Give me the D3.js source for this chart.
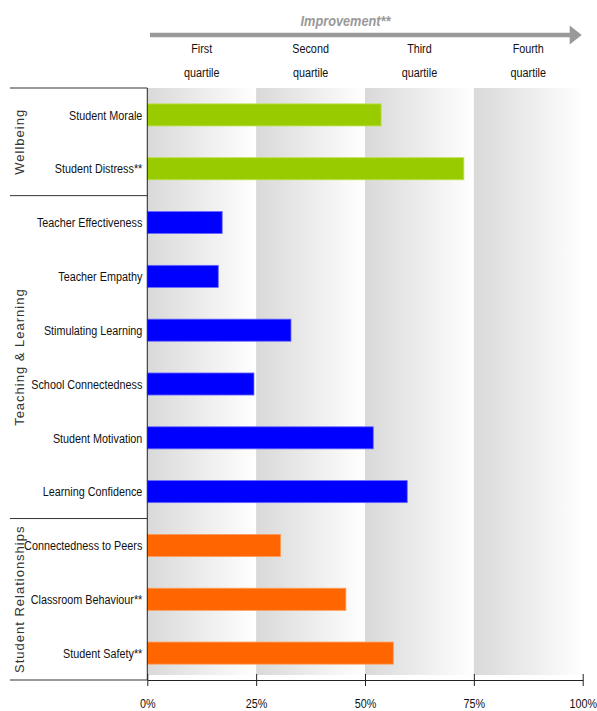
<!DOCTYPE html>
<html>
<head>
<meta charset="utf-8">
<script src="https://cdn.jsdelivr.net/npm/d3@7"></script>
<style>
  html, body { margin: 0; padding: 0; background: #fff; }
  svg { display: block; }
  .narrow { font-family: "Liberation Sans", Arial, sans-serif; }
</style>
</head>
<body>
<svg id="chart" width="597" height="711"></svg>
<script>
// Survey measures, grouped by domain, with percentile position (0-100)
const categories = [
  "Student Morale", "Student Distress**",
  "Teacher Effectiveness", "Teacher Empathy", "Stimulating Learning",
  "School Connectedness", "Student Motivation", "Learning Confidence",
  "Connectedness to Peers", "Classroom Behaviour**", "Student Safety**"
];
const values = [53.7, 72.7, 17.2, 16.3, 33.0, 24.5, 51.9, 59.7, 30.6, 45.6, 56.5];
const groupOf = [
  "Wellbeing", "Wellbeing",
  "Teaching & Learning", "Teaching & Learning", "Teaching & Learning",
  "Teaching & Learning", "Teaching & Learning", "Teaching & Learning",
  "Student Relationships", "Student Relationships", "Student Relationships"
];
const groups = ["Wellbeing", "Teaching & Learning", "Student Relationships"];
const groupColors = { "Wellbeing": "#99cc00", "Teaching & Learning": "#0000ff", "Student Relationships": "#ff6600" };
const groupStroke = { "Wellbeing": "#bde04d", "Teaching & Learning": "#6a6aff", "Student Relationships": "#ff9a55" };
const quartileLabels = [["First", "quartile"], ["Second", "quartile"], ["Third", "quartile"], ["Fourth", "quartile"]];
const tickValues = [0, 25, 50, 75, 100];

const svg = d3.select("#chart");
const plotLeft = 147.3, plotRight = 582.7, plotTop = 88, plotBottom = 680;
const squeeze = 0.8; // horizontal condensing for the narrow label face

const x = d3.scaleLinear().domain([0, 100]).range([plotLeft, plotRight]);
const y = d3.scaleBand().domain(categories).range([plotTop, plotBottom])
  .paddingInner(0.59).paddingOuter(0.295);

// Place a condensed text at (px, py)
function narrowText(parent, px, py, str, opts) {
  return parent.append("text")
    .attr("class", "narrow")
    .attr("transform", `translate(${px},${py}) scale(${opts.scale || squeeze},1)`)
    .attr("text-anchor", opts.anchor || "middle")
    .attr("font-size", opts.size || 13)
    .attr("font-style", opts.style || null)
    .attr("font-weight", opts.weight || null)
    .attr("dy", opts.dy || null)
    .attr("fill", opts.fill || "#111")
    .text(str);
}

// Quartile background bands: light grey fading to white
const defs = svg.append("defs");
const grad = defs.append("linearGradient").attr("id", "bandGrad")
  .attr("x1", "0%").attr("x2", "100%").attr("y1", "0%").attr("y2", "0%");
grad.append("stop").attr("offset", "0%").attr("stop-color", "#d9d9d9");
grad.append("stop").attr("offset", "100%").attr("stop-color", "#ffffff");

svg.append("g").selectAll("rect").data([0, 25, 50, 75]).join("rect")
  .attr("x", d => x(d))
  .attr("y", plotTop)
  .attr("width", d => x(d + 25) - x(d))
  .attr("height", plotBottom - 5 - plotTop)
  .attr("fill", "url(#bandGrad)");

// Improvement arrow and quartile headings
const arrowY = 35;
svg.append("line")
  .attr("x1", 150).attr("x2", x(100) - 10)
  .attr("y1", arrowY).attr("y2", arrowY)
  .attr("stroke", "#999").attr("stroke-width", 4.5);
svg.append("path")
  .attr("d", `M${x(100) - 13},${arrowY - 9.5} L${x(100) - 1},${arrowY} L${x(100) - 13},${arrowY + 9.5} Z`)
  .attr("fill", "#999");
narrowText(svg, 345.5, 26, "Improvement**",
  { size: 15, style: "italic", weight: "bold", fill: "#999", scale: 0.85 });

const qg = svg.append("g");
quartileLabels.forEach((lines, i) => {
  const cx = x(i * 25 + 12.5);
  lines.forEach((t, j) => narrowText(qg, cx, 53 + j * 24, t, { size: 13.5 }));
});

// Bars
svg.append("g").selectAll("rect").data(categories).join("rect")
  .attr("x", x(0))
  .attr("y", d => y(d))
  .attr("width", (d, i) => x(values[i]) - x(0))
  .attr("height", y.bandwidth())
  .attr("fill", (d, i) => groupColors[groupOf[i]])
  .attr("stroke", (d, i) => groupStroke[groupOf[i]])
  .attr("stroke-width", 0.8);

// Category labels
const lg = svg.append("g");
categories.forEach(c => {
  narrowText(lg, plotLeft - 5, y(c) + y.bandwidth() / 2, c,
    { anchor: "end", size: 13.5, dy: "0.35em" });
});

// Group separators and rotated group titles
const rowTop = i => plotTop + i * y.step();
let start = 0;
const sep = svg.append("g");
sep.append("line").attr("x1", 10).attr("x2", plotLeft).attr("y1", rowTop(0)).attr("y2", rowTop(0))
  .attr("stroke", "#333").attr("stroke-width", 1);
groups.forEach(g => {
  const n = groupOf.filter(v => v === g).length;
  const y0 = rowTop(start), y1 = rowTop(start + n);
  sep.append("line").attr("x1", 10).attr("x2", plotLeft).attr("y1", y1).attr("y2", y1)
    .attr("stroke", "#333").attr("stroke-width", 1);
  svg.append("text")
    .attr("transform", `translate(23.5,${(y0 + y1) / 2}) rotate(-90)`)
    .attr("text-anchor", "middle")
    .attr("font-family", "Liberation Sans, Arial, sans-serif")
    .attr("font-size", 13)
    .attr("letter-spacing", 1)
    .attr("fill", "#333")
    .text(g);
  start += n;
});

// Vertical axis line
svg.append("line").attr("x1", plotLeft).attr("x2", plotLeft).attr("y1", plotTop).attr("y2", plotBottom)
  .attr("stroke", "#222").attr("stroke-width", 1);

// Bottom percentage axis
const xAxis = d3.axisBottom(x).tickValues(tickValues).tickFormat(d => d + "%")
  .tickSize(6).tickSizeOuter(0);
const ax = svg.append("g").attr("transform", `translate(0,${plotBottom})`).call(xAxis);
ax.select(".domain").attr("stroke", "#222");
ax.selectAll(".tick line").attr("stroke", "#222").attr("y1", -6).attr("y2", 6);
ax.selectAll(".tick text")
  .attr("class", "narrow")
  .attr("transform", `scale(${squeeze},1)`)
  .attr("y", 18).attr("font-size", 13.5).attr("fill", "#111");
</script>
</body>
</html>
